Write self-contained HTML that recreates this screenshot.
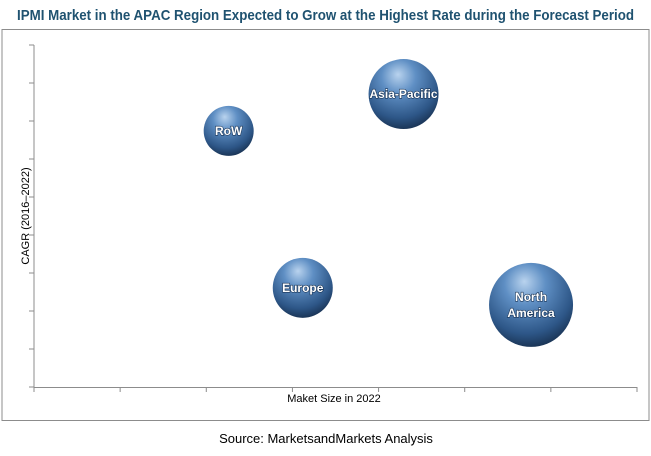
<!DOCTYPE html>
<html><head><meta charset="utf-8"><style>
body{margin:0;background:#fff;width:651px;height:451px;overflow:hidden}
svg text{font-family:"Liberation Sans",sans-serif}
</style></head><body>
<svg width="651" height="451" viewBox="0 0 651 451">
<defs>
<radialGradient id="bg" cx="0.45" cy="0.3" r="0.7" fx="0.42" fy="0.22">
<stop offset="0" stop-color="#b9d3ee"/>
<stop offset="0.35" stop-color="#5f8fc4"/>
<stop offset="0.8" stop-color="#2d5687"/>
<stop offset="1" stop-color="#1b3658"/>
</radialGradient>
</defs>
<text x="17" y="20" textLength="617" lengthAdjust="spacingAndGlyphs" font-size="15" font-weight="bold" fill="#1f5270">IPMI  Market in the APAC  Region Expected to Grow at the Highest Rate during the Forecast Period</text>
<rect x="2" y="29.5" width="647" height="391" fill="none" stroke="#8c8c8c"/>
<g id="axes"></g>
<g id="bubbles"></g>
<text x="334" y="402" text-anchor="middle" font-size="11" fill="#000">Maket Size in 2022</text>
<text transform="translate(29,216) rotate(-90)" text-anchor="middle" font-size="11" fill="#000">CAGR (2016–2022)</text>
<text x="326" y="443" text-anchor="middle" font-size="13" fill="#000">Source: MarketsandMarkets Analysis</text>
</svg>
<script>
const labels=["RoW","Asia-Pacific","Europe","North America"];
const xValues=[2.26,4.29,3.12,5.77];
const yValues=[6.74,7.71,2.61,2.16];
const sizes=[25,35,30,42];
const X0=34,X1=637,Y0=387,Y1=45,XMAX=7,YMAX=9;
const xs=v=>X0+(X1-X0)*v/XMAX, ys=v=>Y0-(Y0-Y1)*v/YMAX;
const NS="http://www.w3.org/2000/svg";
const ax=document.getElementById('axes');
function ln(x1,y1,x2,y2,name){const l=document.createElementNS(NS,'line');l.setAttribute('x1',x1);l.setAttribute('y1',y1);l.setAttribute('x2',x2);l.setAttribute('y2',y2);l.setAttribute('stroke','#8c8c8c');


ax.appendChild(l);}
ln(X0,Y1,X0,Y0,'y-axis');ln(X0,Y0+.5,X1,Y0+.5,'x-axis');
for(let i=0;i<=XMAX;i++)ln(xs(i),Y0,xs(i),Y0+5,'x-tick');
for(let i=0;i<=YMAX;i++)ln(X0-5,ys(i),X0,ys(i),'y-tick');
const bg=document.getElementById('bubbles');
labels.forEach((lab,i)=>{
 const g=document.createElementNS(NS,'g');
 
 
 const c=document.createElementNS(NS,'circle');
 c.setAttribute('cx',xs(xValues[i]));c.setAttribute('cy',ys(yValues[i]));c.setAttribute('r',sizes[i]);c.setAttribute('fill','url(#bg)');
 g.appendChild(c);
 const words=lab.split(' ');
 words.forEach((w,j)=>{const t=document.createElementNS(NS,'text');
  t.setAttribute('x',xs(xValues[i]));
  t.setAttribute('y',ys(yValues[i])+4+(j-(words.length-1)/2)*16);
  t.setAttribute('text-anchor','middle');t.setAttribute('font-size','12');t.setAttribute('font-weight','bold');t.setAttribute('fill','#fff');
  t.setAttribute('style',"paint-order:stroke;stroke:#1b3658;stroke-width:1.2px");
  t.textContent=w;
  
  
  g.appendChild(t);});
 bg.appendChild(g);
});
</script>
</body></html>
